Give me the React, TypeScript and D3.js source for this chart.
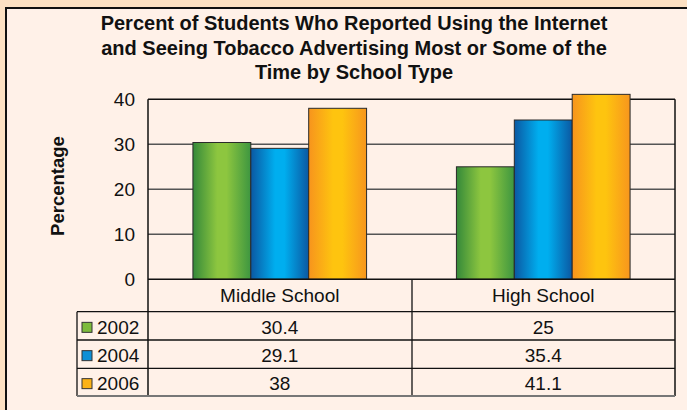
import React from "react";
import * as d3 from "d3";

const schoolTypes = ["Middle School", "High School"];
const years = ["2002", "2004", "2006"];
const values2002 = [30.4, 25];
const values2004 = [29.1, 35.4];
const values2006 = [38, 41.1];
const yTicks = [0, 10, 20, 30, 40];
const titleLines = [
  "Percent of Students Who Reported Using the Internet",
  "and Seeing Tobacco Advertising Most or Some of the",
  "Time by School Type",
];
const yLabel = "Percentage";

const seriesValues = [values2002, values2004, values2006];
const gradients = [
  { id: "gGreen", edgeL: "#34893a", mid: "#8dc63f", edgeR: "#3d9640", swatch: "#7dbb3c" },
  { id: "gBlue", edgeL: "#0b58a2", mid: "#00aeef", edgeR: "#0b58a2", swatch: "#0e8fd6" },
  { id: "gOrange", edgeL: "#f7941d", mid: "#fec40f", edgeR: "#f7961d", swatch: "#fbb217" },
];

const W = 687;
const H = 410;
const plotL = 148;
const plotR = 675;
const plotT = 99.3;
const plotB = 279.3;
const tableL = 77;
const rowLines = [279.3, 311.7, 340, 368.3, 396];
const font = "'Liberation Sans', Arial, Helvetica, sans-serif";

export default function App() {
  const x0 = d3.scaleBand<string>().domain(schoolTypes).range([plotL, plotR]).paddingInner(0).paddingOuter(0);
  const x1 = d3
    .scaleBand<string>()
    .domain(years)
    .range([0, x0.bandwidth()])
    .paddingOuter(0.776)
    .paddingInner(0);
  const y = d3.scaleLinear().domain([0, 40]).range([plotB, plotT]);

  return (
    <div style={{ position: "absolute", left: 0, top: 0 }}>
      <svg width={W} height={H} style={{ display: "block" }}>
        <defs>
          {gradients.map((g) => (
            <linearGradient key={g.id} id={g.id} x1="0" x2="1" y1="0" y2="0">
              <stop offset="0" stopColor={g.edgeL} />
              <stop offset="0.42" stopColor={g.mid} />
              <stop offset="0.58" stopColor={g.mid} />
              <stop offset="1" stopColor={g.edgeR} />
            </linearGradient>
          ))}
        </defs>
        <rect x={0} y={0} width={W} height={H} fill="#fde1c3" />
        <rect x={6} y={8} width={W + 10} height={H + 10} fill="#fff1e8" stroke="#111" strokeWidth={2} />

        {titleLines.map((t, i) => (
          <text
            key={i}
            x={354}
            y={30 + i * 24.5}
            textAnchor="middle"
            fontFamily={font}
            fontWeight="bold"
            fontSize={20}
            fill="#111"
          >
            {t}
          </text>
        ))}

        <text
          transform={`translate(64,186) rotate(-90)`}
          textAnchor="middle"
          fontFamily={font}
          fontWeight="bold"
          fontSize={18.5}
          fill="#111"
        >
          {yLabel}
        </text>

        {yTicks
          .filter((t) => t > 0 && t < 40)
          .map((t) => (
            <line key={t} x1={plotL} x2={plotR} y1={y(t)} y2={y(t)} stroke="#555" strokeWidth={1.5} />
          ))}
        <line x1={plotL} x2={plotR} y1={y(40)} y2={y(40)} stroke="#111" strokeWidth={1.5} />

        {yTicks.map((t) => (
          <text
            key={t}
            x={135}
            y={y(t)}
            dy="0.35em"
            textAnchor="end"
            fontFamily={font}
            fontSize={19}
            fill="#111"
          >
            {t}
          </text>
        ))}

        {schoolTypes.map((s, si) =>
          years.map((yr, yi) => {
            const v = seriesValues[yi][si];
            const bx = (x0(s) as number) + (x1(yr) as number);
            return (
              <rect
                key={s + yr}
                x={bx}
                y={y(v)}
                width={x1.bandwidth()}
                height={plotB - y(v)}
                fill={`url(#${gradients[yi].id})`}
                stroke="#2a2a2a"
                strokeWidth={1}
              />
            );
          })
        )}

        <line x1={plotL} x2={plotL} y1={plotT} y2={rowLines[4]} stroke="#111" strokeWidth={1.5} />
        <line x1={plotR} x2={plotR} y1={plotT} y2={rowLines[4]} stroke="#111" strokeWidth={1.5} />
        <line x1={412} x2={412} y1={plotB} y2={rowLines[4]} stroke="#111" strokeWidth={1.3} />
        <line x1={plotL} x2={plotR} y1={plotB} y2={plotB} stroke="#111" strokeWidth={1.5} />
        {rowLines.slice(1, 4).map((ly, i) => (
          <line key={i} x1={tableL} x2={plotR} y1={ly} y2={ly} stroke="#111" strokeWidth={1.3} />
        ))}
        <line x1={tableL} x2={tableL} y1={rowLines[1]} y2={rowLines[4]} stroke="#111" strokeWidth={1.3} />
        <line x1={tableL} x2={plotR} y1={rowLines[4]} y2={rowLines[4]} stroke="#777" strokeWidth={2} />

        {schoolTypes.map((s) => (
          <text
            key={s}
            x={(x0(s) as number) + x0.bandwidth() / 2}
            y={(rowLines[0] + rowLines[1]) / 2}
            dy="0.35em"
            textAnchor="middle"
            fontFamily={font}
            fontSize={19}
            fill="#111"
          >
            {s}
          </text>
        ))}

        {years.map((yr, yi) => {
          const cy = (rowLines[yi + 1] + rowLines[yi + 2]) / 2 + 1.5;
          return (
            <g key={yr}>
              <rect
                x={82}
                y={cy - 5}
                width={10}
                height={10}
                fill={gradients[yi].swatch}
                stroke="#333"
                strokeWidth={1}
              />
              <text x={97} y={cy} dy="0.35em" fontFamily={font} fontSize={19} fill="#111">
                {yr}
              </text>
              {schoolTypes.map((s, si) => (
                <text
                  key={s}
                  x={(x0(s) as number) + x0.bandwidth() / 2}
                  y={cy}
                  dy="0.35em"
                  textAnchor="middle"
                  fontFamily={font}
                  fontSize={19}
                  fill="#111"
                >
                  {String(seriesValues[yi][si])}
                </text>
              ))}
            </g>
          );
        })}
      </svg>
    </div>
  );
}
